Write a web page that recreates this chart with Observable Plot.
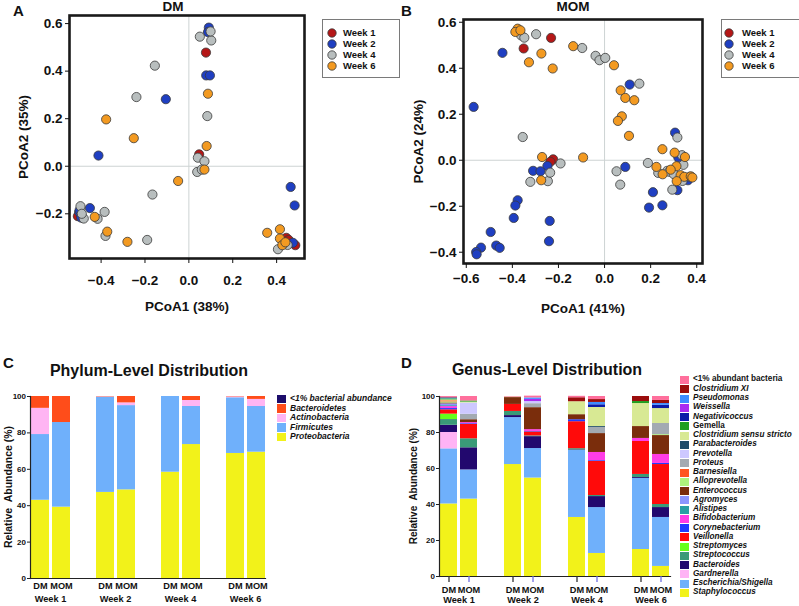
<!DOCTYPE html>
<html><head><meta charset="utf-8">
<script src="https://cdn.jsdelivr.net/npm/d3@7"></script>
<script src="https://cdn.jsdelivr.net/npm/@observablehq/plot@0.6"></script>
<style>
body{margin:0;background:#fff;font-family:"Liberation Sans",Arial,sans-serif;}
#fig{position:relative;width:799px;height:606px;overflow:hidden;background:#fff;color:#111}
.abs{position:absolute;line-height:1;white-space:pre}
.b{font-weight:bold}
.svgbox{position:absolute}
.leg{position:absolute;border:1px solid #7a7a7a;background:#fff}
.li{position:absolute;font-weight:bold;font-size:9.5px;line-height:1;white-space:nowrap}
</style></head><body><div id="fig"></div><script>
// ---------- shared categories ----------
const weeks = ["Week 1", "Week 2", "Week 4", "Week 6"];
const weekColors = ["#b51717", "#1f3fc2", "#b8bebe", "#f39a21"];
const samples = ["DM", "MOM"];

// ---------- Panel A: DM PCoA [PCoA1, PCoA2] ----------
const dmWeek1 = [[0.078,0.478],[0.047,0.05],[-0.506,-0.21],[0.444,-0.301],[0.485,-0.332],[0.455,-0.31]];
const dmWeek2 = [[0.091,0.583],[0.087,0.564],[0.079,0.382],[0.096,0.382],[-0.105,0.282],[-0.412,0.045],[-0.5,-0.193],[-0.491,-0.216],[-0.451,-0.176],[-0.498,-0.185],[0.464,-0.087],[0.482,-0.165],[0.474,-0.322]];
const dmWeek4 = [[0.05,0.545],[0.102,0.529],[0.099,0.567],[0.084,0.211],[0.041,0.036],[0.071,0.021],[0.038,-0.024],[0.059,-0.014],[-0.155,0.423],[-0.239,0.291],[-0.166,-0.119],[-0.494,-0.168],[-0.479,-0.22],[-0.488,-0.2],[-0.416,-0.221],[-0.384,-0.192],[-0.38,-0.293],[-0.19,-0.31],[0.45,-0.331],[0.406,-0.349]];
const dmWeek6 = [[0.087,0.305],[0.081,0.085],[0.071,-0.014],[-0.377,0.197],[-0.251,0.118],[-0.049,-0.062],[-0.429,-0.213],[-0.372,-0.275],[-0.28,-0.318],[0.357,-0.28],[0.415,-0.265],[0.415,-0.304],[0.426,-0.332],[0.44,-0.32]];

// ---------- Panel B: MOM PCoA ----------
const momWeek1 = [[-0.232,0.532],[-0.351,0.486],[-0.223,0.004],[-0.235,-0.007]];
const momWeek2 = [[-0.443,0.467],[0.109,0.329],[-0.568,0.232],[-0.248,-0.025],[-0.31,-0.046],[-0.278,-0.048],[-0.377,-0.174],[-0.387,-0.197],[-0.394,-0.251],[-0.238,-0.264],[-0.241,-0.352],[-0.494,-0.312],[-0.47,-0.371],[-0.455,-0.381],[-0.536,-0.38],[-0.557,-0.399],[-0.555,-0.409],[0.09,-0.029],[0.306,0.12],[0.32,0.012],[0.316,-0.13],[0.362,-0.087],[0.21,-0.139],[0.193,-0.206],[0.251,-0.196]];
const momWeek4 = [[-0.362,0.543],[-0.348,0.533],[-0.297,0.548],[-0.097,0.488],[-0.039,0.454],[-0.022,0.435],[0.003,0.445],[0.151,0.333],[-0.355,0.101],[-0.191,-0.014],[-0.322,-0.094],[-0.246,-0.091],[-0.236,-0.054],[0.052,-0.048],[0.068,-0.106],[0.188,-0.012],[0.233,-0.055],[0.316,0.099],[0.336,0.022],[0.342,-0.02],[0.272,-0.046],[0.338,-0.09],[0.294,-0.128],[0.37,-0.072],[0.28,-0.05],[0.3,-0.06]];
const momWeek6 = [[-0.377,0.572],[-0.387,0.558],[-0.365,0.565],[-0.274,0.464],[-0.328,0.426],[-0.225,0.399],[-0.136,0.496],[0.041,0.413],[0.07,0.304],[0.09,0.271],[0.129,0.261],[0.075,0.191],[0.058,0.171],[0.106,0.106],[-0.093,0.012],[-0.271,0.014],[-0.275,-0.087],[0.225,-0.029],[0.252,-0.061],[0.251,0.048],[0.304,0.033],[0.349,0.014],[0.312,-0.026],[0.287,-0.041],[0.33,-0.065],[0.346,-0.072],[0.313,-0.091],[0.374,-0.07],[0.381,-0.075]];

const dmTicksX = [-0.4,-0.2,0,0.2,0.4], dmTicksY = [-0.2,0,0.2,0.4,0.6];
const momTicksX = [-0.6,-0.4,-0.2,0,0.2,0.4], momTicksY = [-0.4,-0.2,0,0.2,0.4,0.6];

// ---------- Panel C: phylum (% per bar: W1 DM, W1 MOM, W2 DM, W2 MOM, W4 DM, W4 MOM, W6 DM, W6 MOM) ----------
const phyla = ["Proteobacteria","Firmicutes","Actinobacteria","Bacteroidetes","<1% bacterial abundance"]; // bottom -> top
const phylumColors = ["#f2f21a","#6fb0fb","#ffb5f3","#ff4d1a","#1c0d6b"];
const proteobacteria = [43, 39.2, 47.3, 48.7, 58.4, 73.6, 68.7, 69.4];
const firmicutes     = [36.1, 46.5, 52.3, 46.3, 41.6, 20.9, 30.6, 25.1];
const actinobacteria = [14.4, 0, 0.2, 1.5, 0, 3.3, 0.5, 3.9];
const bacteroidetes  = [6.5, 14.3, 0.2, 3.5, 0, 2.2, 0.2, 1.6];
const phylumRare     = [0, 0, 0, 0, 0, 0, 0, 0];
const phylumSeries = [proteobacteria, firmicutes, actinobacteria, bacteroidetes, phylumRare];

// ---------- Panel D: genus ----------
const genera = ["Staphylococcus","Escherichia/Shigella","Gardnerella","Bacteroides","Streptococcus","Streptomyces","Veillonella","Corynebacterium","Bifidobacterium","Alistipes","Agromyces","Enterococcus","Alloprevotella","Barnesiella","Proteus","Prevotella","Parabacteroides","Clostridium sensu stricto","Gemella","Negativicoccus","Weissella","Pseudomonas","Clostridium XI","<1% abundant bacteria"]; // bottom -> top
const genusColors = ["#f2f21a","#6fb0fb","#ffb3f5","#22086e","#3a9a78","#66ff1a","#ff0a0a","#1f3cff","#ff3de6","#2a9ea5","#8c96ff","#7a2d0c","#aef27c","#ff5520","#a3aab2","#cdc8ff","#1d4a68","#d8e994","#1f9e1f","#0b1aa8","#a92cf0","#3d8cff","#9b0d0d","#ff6f9c"];
const staphylococcus  = [40.3, 43, 62.2, 54.7, 32.8, 12.8, 15, 5.6];
const escherichia     = [30.6, 16.2, 26.1, 16.4, 37.2, 25.5, 39.5, 27.2];
const gardnerella     = [9.1, 0, 0, 0, 0, 0, 0, 0];
const bacteroides     = [4, 12.3, 1.1, 6.6, 0.3, 6.1, 0.5, 5.5];
const streptococcus   = [3.2, 5, 2.3, 0.4, 0.7, 0.6, 1.7, 1.7];
const streptomyces    = [3, 0, 0, 0, 0, 0, 0, 0];
const veillonella     = [2.4, 8, 3.9, 2.2, 15, 19, 18.3, 22.2];
const corynebacterium = [0.7, 0.4, 0, 0.3, 1.1, 0.4, 0, 0.6];
const bifidobacterium = [1.1, 0.6, 0, 1, 0, 4.5, 1.7, 5];
const alistipes       = [0.5, 0, 0, 0, 0, 0, 0, 0];
const agromyces       = [1.0, 0, 0, 0, 0, 0, 0, 0];
const enterococcus    = [0.5, 1.6, 3.8, 12.2, 2.8, 10.5, 6.6, 10.5];
const alloprevotella  = [0.6, 0, 0, 0, 0, 0, 0, 0.5];
const barnesiella     = [0.6, 0, 0, 0, 0, 0, 0, 0];
const proteus         = [0, 3, 0, 2.2, 0, 3.4, 0, 6.2];
const prevotella      = [0, 6.3, 0, 1.2, 0, 0, 0, 0];
const parabacteroides = [0, 0, 0, 0, 0, 0.5, 0, 0];
const clostridiumSS   = [0.5, 0.5, 0.3, 0, 7.2, 10.6, 12.8, 8.3];
const gemella         = [0.6, 0.6, 0, 0, 0, 0, 1.1, 0];
const negativicoccus  = [0, 0, 0, 0, 0, 1.5, 0, 1.8];
const weissella       = [0, 0, 0, 1.2, 0, 0, 0, 0];
const pseudomonas     = [0.5, 0, 0, 0.8, 0, 1.3, 0, 1];
const clostridiumXI   = [0.3, 0, 0, 0, 2.2, 1.6, 2.8, 1.7];
const genusRare       = [0.5, 2.5, 0.3, 1, 0.8, 1.7, 0, 2.2];
const genusSeries = [staphylococcus, escherichia, gardnerella, bacteroides, streptococcus, streptomyces, veillonella, corynebacterium, bifidobacterium, alistipes, agromyces, enterococcus, alloprevotella, barnesiella, proteus, prevotella, parabacteroides, clostridiumSS, gemella, negativicoccus, weissella, pseudomonas, clostridiumXI, genusRare];
const nonItalic = ["<1% abundant bacteria", "Gemella"];

// ---------- helpers ----------
const FONT = "'Liberation Sans', Arial, Helvetica, sans-serif";
const fig = document.getElementById("fig");
function place(node, left, top) {
  const d = document.createElement("div");
  d.className = "svgbox"; d.style.left = left + "px"; d.style.top = top + "px";
  d.appendChild(node); fig.appendChild(d);
}
function txt(s, left, top, size, extra = "") {
  const d = document.createElement("div");
  d.className = "abs b"; d.textContent = s;
  d.style.cssText += `left:${left}px;top:${top}px;font-size:${size}px;${extra}`;
  fig.appendChild(d);
}

function scatter(series, o) {
  const data = series.flatMap((pts, i) => pts.map(([x, y]) => ({week: weeks[i], x, y})));
  return Plot.plot({
    width: o.width, height: o.height,
    marginLeft: o.ml, marginRight: o.mr, marginTop: o.mt, marginBottom: o.mb,
    style: {fontFamily: FONT, background: "none", color: "#111", overflow: "visible"},
    x: {domain: o.xd}, y: {domain: o.yd},
    color: {domain: weeks, range: weekColors},
    marks: [
      Plot.ruleX([0], {stroke: "#cdd3d3", strokeWidth: 1}),
      Plot.ruleY([0], {stroke: "#cdd3d3", strokeWidth: 1}),
      Plot.dot(data, {x: "x", y: "y", fill: "week", stroke: "#3a3a3a", strokeWidth: 0.8, r: 4.6}),
      Plot.frame({stroke: "#1a1a1a", strokeWidth: 2.6}),
      Plot.axisX(o.xt, {tickFormat: d3.format(".1f"), tickSize: 5, tickPadding: o.xpad, fontSize: 13.5, fontWeight: "bold",
        label: o.xl, labelAnchor: "center", labelOffset: o.xlo, labelArrow: "none"}),
      Plot.axisY(o.yt, {tickFormat: d3.format(".1f"), tickSize: 4, tickPadding: 3, fontSize: 13.5, fontWeight: "bold",
        label: o.yl, labelAnchor: "center", labelOffset: o.ylo, labelArrow: "none"})
    ]
  });
}

function stacked(series, names, colors, o) {
  const data = [];
  series.forEach((vals, i) => vals.forEach((v, j) =>
    data.push({taxon: names[i], week: weeks[Math.floor(j / 2)], sample: samples[j % 2], value: v})));
  const marks = [
    Plot.barY(data, {fx: "week", x: "sample", y: "value", fill: "taxon"}),
    Plot.frame({anchor: "bottom", facet: "super", stroke: "#222", strokeWidth: 1.2}),
    Plot.frame({anchor: "left", facet: "super", stroke: "#222", strokeWidth: 1.2}),
    Plot.axisY([0, 20, 40, 60, 80, 100], {tickSize: 3, tickPadding: 1.5, fontSize: 8, fontWeight: "bold",
      label: null, stroke: "#222"}),
    Plot.text(weeks, {fx: d => d, text: d => d, frameAnchor: "bottom", lineAnchor: "top", dy: o.wdy,
      fontSize: 9.2, fontWeight: "bold"})
  ];
  if (o.coloredTicks) {
    marks.push(Plot.axisX(["DM"], {tickSize: 6, tickPadding: o.xpad, fontSize: 9.2, fontWeight: "bold", stroke: "#333", fill: "#111", label: null, strokeWidth: 1.3}));
    marks.push(Plot.axisX(["MOM"], {tickSize: 6, tickPadding: o.xpad, fontSize: 9.2, fontWeight: "bold", stroke: "#7070e0", fill: "#111", label: null, strokeWidth: 1.3}));
  } else {
    marks.push(Plot.axisX(samples, {tickSize: 0, tickPadding: o.xpad, fontSize: 9.2, fontWeight: "bold", label: null}));
  }
  return Plot.plot({
    width: o.width, height: o.height,
    marginLeft: o.ml, marginRight: o.mr, marginTop: o.mt, marginBottom: o.mb,
    style: {fontFamily: FONT, background: "none", color: "#111", overflow: "visible"},
    fx: {domain: weeks, paddingInner: 0.39, paddingOuter: o.fpo, align: 0, axis: null, label: null},
    x: {domain: samples, paddingInner: 0.16, paddingOuter: 0.03, axis: null},
    y: {domain: [0, 100], axis: null},
    color: {domain: names, range: colors},
    marks
  });
}

// ---------- Panels A & B ----------
place(scatter([dmWeek1, dmWeek2, dmWeek4, dmWeek6], {
  width: 320, height: 320, ml: 69, mr: 16, mt: 15, mb: 62,
  xd: [-0.544, 0.527], yd: [-0.388, 0.634], xt: dmTicksX, yt: dmTicksY,
  xpad: 12, xl: "PCoA1 (38%)", xlo: 52, yl: "PCoA2 (35%)", ylo: 51
}), 0, 0);
place(scatter([momWeek1, momWeek2, momWeek4, momWeek6], {
  width: 320, height: 320, ml: 63, mr: 18, mt: 19, mb: 57,
  xd: [-0.612, 0.425], yd: [-0.449, 0.612], xt: momTicksX, yt: momTicksY,
  xpad: 5, xl: "PCoA1 (41%)", xlo: 49, yl: "PCoA2 (24%)", ylo: 50
}), 400, 0);

// ---------- Panels C & D ----------
place(stacked(phylumSeries, phyla, phylumColors, {
  width: 275, height: 221, ml: 30, mr: 2, mt: 11, mb: 28, fpo: 0.045,
  xpad: 4, wdy: 17, coloredTicks: false
}), 0, 385);
place(stacked(genusSeries, genera, genusColors, {
  width: 276, height: 221, ml: 39, mr: 3, mt: 11, mb: 30, fpo: 0.015,
  xpad: 3.5, wdy: 20, coloredTicks: true
}), 400, 385);

// rotated y-axis titles of the bar panels
txt("Relative  Abundance (%)", 8, 487, 10.5, "transform:translate(-50%,-50%) rotate(-90deg)");
txt("Relative  Abundance (%)", 414, 486, 10, "transform:translate(-50%,-50%) rotate(-90deg)");

// ---------- titles & panel letters ----------
txt("A", 13, 3, 15);
txt("B", 401, 3, 15);
txt("C", 3, 355, 15);
txt("D", 401, 355, 15);
txt("DM", 173, 0, 13.5, "transform:translateX(-50%)");
txt("MOM", 573, 0, 13.5, "transform:translateX(-50%)");
txt("Phylum-Level Distribution", 149, 363, 16, "transform:translateX(-50%)");
txt("Genus-Level Distribution", 547, 362, 16, "transform:translateX(-50%)");

// ---------- week legends (A, B) ----------
function weekLegend(left, top, w, h, cx, tx) {
  const box = document.createElement("div");
  box.className = "leg";
  box.style.cssText += `left:${left}px;top:${top}px;width:${w}px;height:${h}px`;
  weeks.forEach((wk, i) => {
    const yc = 13 + i * 11;
    const s = document.createElementNS("http://www.w3.org/2000/svg", "svg");
    s.setAttribute("width", 10); s.setAttribute("height", 10);
    s.style.cssText = `position:absolute;left:${cx - 5}px;top:${yc - 5}px`;
    const c = document.createElementNS("http://www.w3.org/2000/svg", "circle");
    c.setAttribute("cx", 5); c.setAttribute("cy", 5); c.setAttribute("r", 4.2);
    c.setAttribute("fill", weekColors[i]); c.setAttribute("stroke", "#3a3a3a"); c.setAttribute("stroke-width", 0.8);
    s.appendChild(c); box.appendChild(s);
    const t = document.createElement("div");
    t.className = "li"; t.textContent = wk;
    t.style.cssText += `left:${tx}px;top:${yc - 5}px`;
    box.appendChild(t);
  });
  fig.appendChild(box);
}
weekLegend(322, 19, 76, 57, 9, 20);
weekLegend(721, 19, 77, 57, 7, 20);

// ---------- taxa legends (C, D) ----------
function taxaLegend(names, colors, left, top0, step, sw, sh, tx, size, italicFn) {
  const order = names.slice().reverse(), cols = colors.slice().reverse();
  order.forEach((n, i) => {
    const yc = top0 + i * step;
    const sq = document.createElement("div");
    sq.style.cssText = `position:absolute;left:${left}px;top:${yc - sh / 2}px;width:${sw}px;height:${sh}px;background:${cols[i]}`;
    fig.appendChild(sq);
    const t = document.createElement("div");
    t.className = "abs b"; t.textContent = n;
    t.style.cssText += `left:${tx}px;top:${yc - size * 0.55}px;font-size:${size}px;font-style:${italicFn(n) ? "italic" : "normal"}`;
    fig.appendChild(t);
  });
}
taxaLegend(phyla, phylumColors, 277, 399, 9.5, 9, 8.5, 290, 8.5, () => true);
taxaLegend(genera, genusColors, 680, 380, 9.26, 9, 8, 693, 8.2, n => !nonItalic.includes(n));
</script></body></html>
